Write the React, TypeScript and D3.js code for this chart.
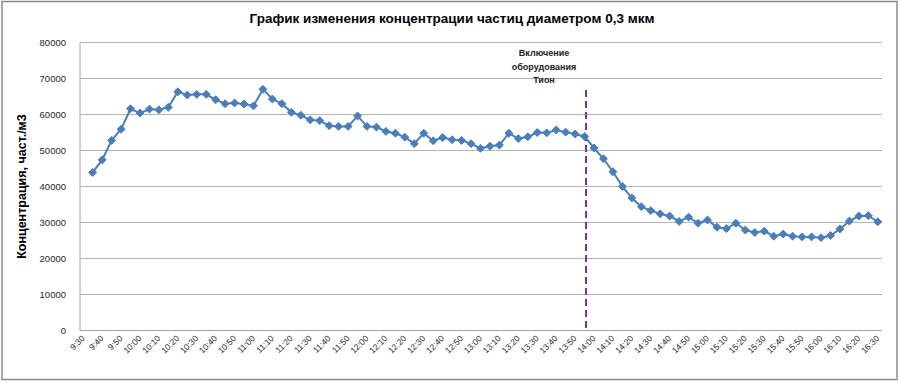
import React from "react";
import * as d3 from "d3";

const title = "График изменения концентрации частиц диаметром 0,3 мкм";
const yTitle = "Концентрация, част./м3";
const annotationLines = ["Включение", "оборудования", "Тион"];
const annotationAt = "13:55";

const categories = [
  "9:30","9:35","9:40","9:45","9:50","9:55","10:00","10:05","10:10","10:15",
  "10:20","10:25","10:30","10:35","10:40","10:45","10:50","10:55","11:00","11:05",
  "11:10","11:15","11:20","11:25","11:30","11:35","11:40","11:45","11:50","11:55",
  "12:00","12:05","12:10","12:15","12:20","12:25","12:30","12:35","12:40","12:45",
  "12:50","12:55","13:00","13:05","13:10","13:15","13:20","13:25","13:30","13:35",
  "13:40","13:45","13:50","13:55","14:00","14:05","14:10","14:15","14:20","14:25",
  "14:30","14:35","14:40","14:45","14:50","14:55","15:00","15:05","15:10","15:15",
  "15:20","15:25","15:30","15:35","15:40","15:45","15:50","15:55","16:00","16:05",
  "16:10","16:15","16:20","16:25","16:30"
];

// values from 9:35 to 16:30 (9:30 is empty)
const values: (number | null)[] = [
  null,
  43900, 47400, 52800, 55900, 61600, 60400, 61500, 61300, 62000, 66300,
  65400, 65600, 65600, 64100, 63000, 63200, 62900, 62400, 67000, 64300,
  63000, 60600, 59800, 58500, 58300, 56900, 56700, 56700, 59600, 56700,
  56500, 55300, 54800, 53700, 51900, 54800, 52700, 53600, 53000, 52800,
  51900, 50600, 51200, 51500, 54800, 53300, 53800, 55000, 54900, 55700,
  55100, 54600, 53900, 50700, 47700, 44100, 40000, 36800, 34400, 33300,
  32400, 31800, 30300, 31500, 29800, 30700, 28700, 28300, 29800, 27900,
  27200, 27600, 26200, 26800, 26200, 26000, 26000, 25800, 26400, 28200,
  30400, 31800, 31900, 30200
];

const yTicks = [0, 10000, 20000, 30000, 40000, 50000, 60000, 70000, 80000];

const W = 900;
const H = 383;
const plotLeft = 80;
const plotRight = 882;
const plotTop = 42.5;
const plotBottom = 330.5;

export default function App() {
  const x = d3.scaleBand<string>().domain(categories).range([78.5, 882.5]);
  const cx = (c: string) => (x(c) as number) + x.bandwidth() / 2;
  const y = d3.scaleLinear().domain([0, 80000]).range([plotBottom, plotTop]);

  const pts = categories
    .map((c, i) => ({ c, v: values[i] }))
    .filter((d) => d.v !== null) as { c: string; v: number }[];

  const line = d3
    .line<{ c: string; v: number }>()
    .x((d) => cx(d.c))
    .y((d) => y(d.v));

  const diamond = d3.symbol().type(d3.symbolDiamond2).size(40)() as string;
  const font = "'Liberation Sans', Arial, sans-serif";
  const ax = cx(annotationAt) + 1.5;

  return (
    <div style={{ position: "absolute", left: 0, top: 0 }}>
      <svg width={W} height={H} style={{ display: "block", background: "#fff" }}>
        <rect x={2} y={1.5} width={895} height={378} fill="#fff" stroke="#8c8c8c" strokeWidth={1.5} />
        <text x={452} y={23} textAnchor="middle" fontFamily={font} fontWeight="bold" fontSize={13.5} fill="#000">
          {title}
        </text>
        {yTicks.map((t) => (
          <g key={t}>
            <line x1={plotLeft} x2={plotRight} y1={y(t)} y2={y(t)} stroke="#b3b3b3" strokeWidth={1} />
            <text x={66} y={y(t)} dy="0.35em" textAnchor="end" fontFamily={font} fontSize={9.5} fill="#262626">
              {t}
            </text>
          </g>
        ))}
        <line x1={plotLeft} x2={plotLeft} y1={plotTop} y2={plotBottom} stroke="#a6a6a6" strokeWidth={1} />
        <line x1={plotLeft} x2={plotRight} y1={plotBottom} y2={plotBottom} stroke="#a6a6a6" strokeWidth={1} />
        {categories.map((c, i) =>
          i % 2 === 0 ? (
            <text
              key={c}
              transform={`translate(${cx(c) + 2},${339}) rotate(-45)`}
              textAnchor="end"
              fontFamily={font}
              fontSize={8.5}
              fill="#262626"
            >
              {c}
            </text>
          ) : null
        )}
        <text
          transform={`translate(26,${(plotTop + plotBottom) / 2}) rotate(-90)`}
          textAnchor="middle"
          fontFamily={font}
          fontWeight="bold"
          fontSize={12.5}
          fill="#000"
        >
          {yTitle}
        </text>
        {annotationLines.map((l, i) => (
          <text key={l} x={544} y={56 + i * 13.5} textAnchor="middle" fontFamily={font} fontWeight="bold" fontSize={9} fill="#222">
            {l}
          </text>
        ))}
        <line x1={ax} x2={ax} y1={90} y2={plotBottom} stroke="#7030A0" strokeWidth={2} strokeDasharray="7,4" />
        <path d={line(pts) as string} fill="none" stroke="#4A7EBB" strokeWidth={2} />
        {pts.map((d) => (
          <path key={d.c} d={diamond} transform={`translate(${cx(d.c)},${y(d.v)})`} fill="#4A7EBB" stroke="#4A7EBB" strokeWidth={1} />
        ))}
      </svg>
    </div>
  );
}
